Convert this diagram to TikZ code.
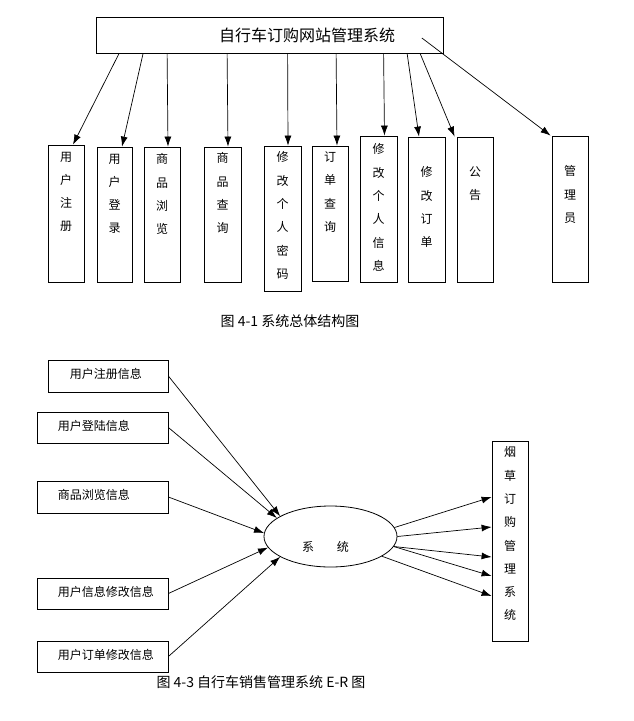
\documentclass[tikz,border=0pt]{standalone}
\usepackage{fontspec}
\setmainfont{Noto Sans CJK SC}
\usetikzlibrary{positioning,shapes.geometric,arrows.meta}

\begin{document}
\begin{tikzpicture}[x=1pt,y=-1pt,
	box/.style={draw,line width=0.8pt,inner sep=0pt},
	vtext/.style={align=center,inner sep=0pt,font=\fontsize{12}{23.3}\selectfont},
	htext/.style={inner sep=0pt,font=\fontsize{12}{14}\selectfont},
	arr/.style={line width=0.7pt,-{Latex[length=10pt,width=7pt]}}]
	\useasboundingbox (0,0) rectangle (633,721);

	% overall structure
	\node[box,minimum width=347pt,minimum height=36pt] (sys) at (270,35) {};
	\node[htext,font=\fontsize{16}{18}\selectfont] (systitle) at (307,35) {自行车订购网站管理系统};

	\node[box,minimum width=36pt,minimum height=137pt] (yhzc) at (66,213.5) {};
	\node[box,minimum width=35pt,minimum height=135pt] (yhdl) at (114.5,214.5) {};
	\node[box,minimum width=36pt,minimum height=135pt] (spll) at (162,214.5) {};
	\node[box,minimum width=37pt,minimum height=135pt] (spcx) at (222.5,214.5) {};
	\node[box,minimum width=37pt,minimum height=145pt] (xgmm) at (282.5,218.5) {};
	\node[box,minimum width=36pt,minimum height=135pt] (ddcx) at (330,213.5) {};
	\node[box,minimum width=37pt,minimum height=146pt] (xgxx) at (378.5,209) {};
	\node[box,minimum width=37pt,minimum height=145pt] (xgdd) at (426.5,209.5) {};
	\node[box,minimum width=36pt,minimum height=145pt] (gg) at (475,209.5) {};
	\node[box,minimum width=36pt,minimum height=146pt] (gly) at (570,209) {};

	\node[vtext,below=7pt of yhzc.north] {用\\户\\注\\册};
	\node[vtext,below=7pt of yhdl.north] {用\\户\\登\\录};
	\node[vtext,below=7pt of spll.north] {商\\品\\浏\\览};
	\node[vtext,below=6pt of spcx.north] {商\\品\\查\\询};
	\node[vtext,below=6pt of xgmm.north] {修\\改\\个\\人\\密\\码};
	\node[vtext,below=6pt of ddcx.north] {订\\单\\查\\询};
	\node[vtext,below=8pt of xgxx.north] {修\\改\\个\\人\\信\\息};
	\node[vtext,below=30pt of xgdd.north] {修\\改\\订\\单};
	\node[vtext,below=30pt of gg.north] {公\\告};
	\node[vtext,below=30pt of gly.north] {管\\理\\员};

	\draw[arr] ([xshift=23pt]sys.south west) -- ([xshift=7pt]yhzc.north);
	\draw[arr] ([xshift=47pt]sys.south west) -- ([xshift=7.5pt]yhdl.north);
	\draw[arr] ([xshift=71pt]sys.south west) -- ([xshift=6pt]spll.north);
	\draw[arr] ([xshift=131pt]sys.south west) -- ([xshift=5.5pt]spcx.north);
	\draw[arr] ([xshift=191.5pt]sys.south west) -- ([xshift=5.5pt]xgmm.north);
	\draw[arr] ([xshift=240pt]sys.south west) -- ([xshift=7pt]ddcx.north);
	\draw[arr] ([xshift=287.5pt]sys.south west) -- ([xshift=6pt]xgxx.north);
	\draw[arr] ([xshift=311pt]sys.south west) -- ([xshift=-7.5pt]xgdd.north);
	\draw[arr] ([xshift=324pt]sys.south west) -- ([xshift=-2pt]gg.north west);
	\draw[arr] ([xshift=-22pt,yshift=-3pt]sys.east) -- ([xshift=-1pt]gly.north west);

	\node[htext,font=\fontsize{14}{16}\selectfont] (cap1) at (290,321) {图 4-1 系统总体结构图};

	% E-R
	\node[box,minimum width=120pt,minimum height=32pt] (zcxx) at (108,376) {};
	\node[box,minimum width=131pt,minimum height=31pt] (dlxx) at (102.5,427.5) {};
	\node[box,minimum width=131pt,minimum height=32pt] (llxx) at (102.5,497) {};
	\node[box,minimum width=131pt,minimum height=31pt] (xgxxxx) at (102.5,593.5) {};
	\node[box,minimum width=131pt,minimum height=31pt] (ddxgxx) at (102.5,656.5) {};

	\node[htext,right=22pt of zcxx.west,yshift=2pt] {用户注册信息};
	\node[htext,right=21pt of dlxx.west,yshift=2pt] {用户登陆信息};
	\node[htext,right=21pt of llxx.west,yshift=2pt] {商品浏览信息};
	\node[htext,right=21pt of xgxxxx.west,yshift=2pt] {用户信息修改信息};
	\node[htext,right=21pt of ddxgxx.west,yshift=2pt] {用户订单修改信息};

	\node[box,ellipse,minimum width=133pt,minimum height=61pt] (xt) at (330.5,536.5) {};
	\node[htext] (xtt) at ([xshift=-5pt,yshift=-10pt]xt.center) {系\hspace{23pt}统};

	\node[box,minimum width=36pt,minimum height=200pt] (ycgl) at (510,541) {};
	\node[vtext,below=6pt of ycgl.north] {烟\\草\\订\\购\\管\\理\\系\\统};

	\draw[arr] (zcxx.east) -- (xt.158);
	\draw[arr] (dlxx.east) -- (xt.161);
	\draw[arr] (llxx.east) -- (xt.177);
	\draw[arr] (xgxxxx.east) -- (xt.190);
	\draw[arr] (ddxgxx.east) -- (xt.202);

	\draw[arr] (xt.8) -- ([yshift=44pt]ycgl.west);
	\draw[arr] (xt.0) -- ([yshift=14pt]ycgl.west);
	\draw[arr] (xt.351) -- ([yshift=-16pt]ycgl.west);
	\draw[arr] (xt.351) -- ([yshift=-35pt]ycgl.west);
	\draw[arr] (xt.339) -- ([yshift=-55pt]ycgl.west);

	\node[htext,font=\fontsize{14}{16}\selectfont] (cap2) at (261,682) {图 4-3 自行车销售管理系统 E-R 图};
\end{tikzpicture}
\end{document}
